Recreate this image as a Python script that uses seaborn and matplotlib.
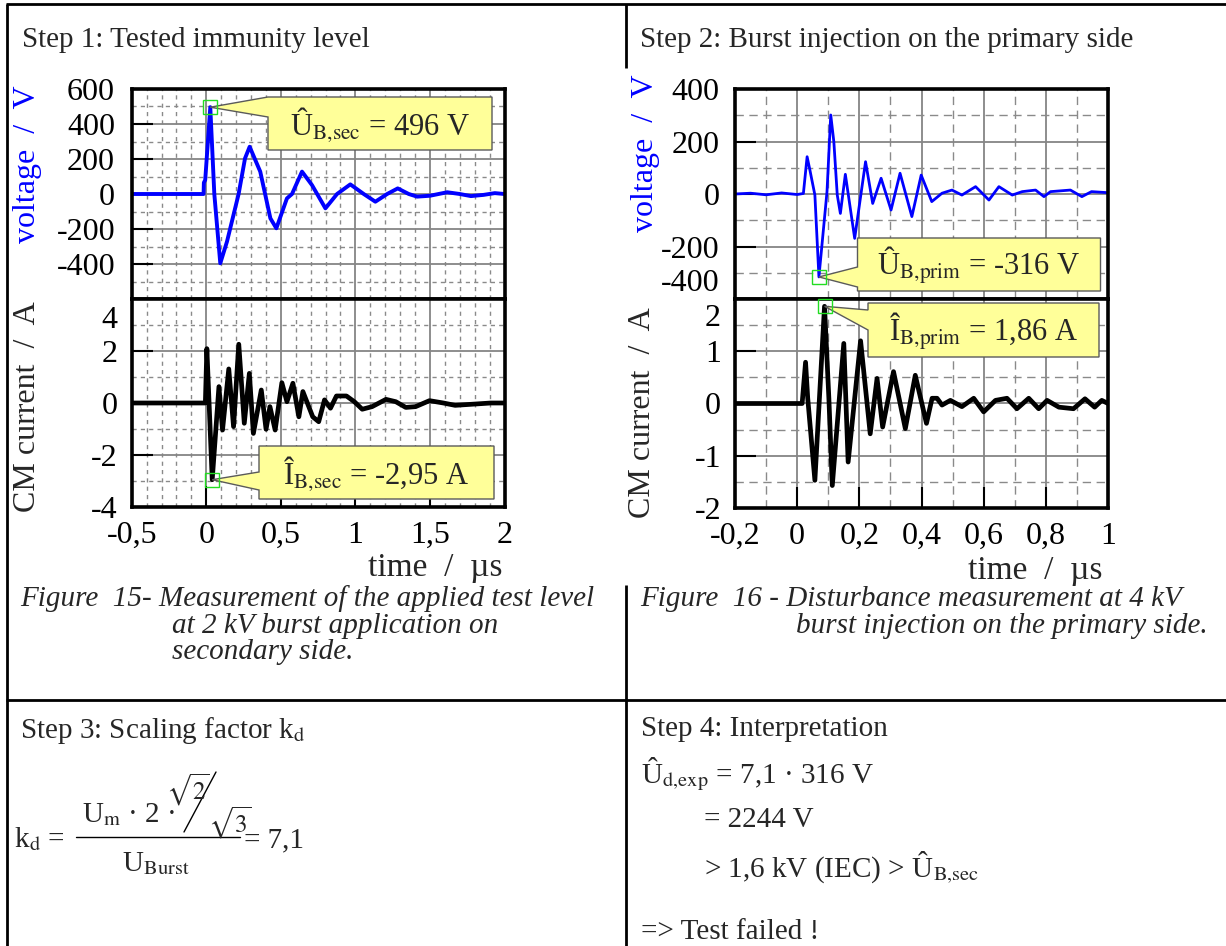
import numpy as np
import matplotlib
matplotlib.use("Agg")
import matplotlib.pyplot as plt
import matplotlib.transforms as mtransforms
import seaborn as sns
from matplotlib.ticker import MultipleLocator
from matplotlib.patches import Polygon, Rectangle

# scope traces, time in µs
# step 1: 2 kV burst on secondary side
sec_v_time = [-0.5, -0.018, -0.016, -0.007, 0.027, 0.054, 0.094, 0.139, 0.217, 0.26, 0.291,
              0.362, 0.43, 0.47, 0.541, 0.575, 0.642, 0.709, 0.799, 0.877, 0.966, 1.056,
              1.134, 1.213, 1.284, 1.358, 1.414, 1.5, 1.616, 1.7, 1.775, 1.86, 1.935, 2.0]
sec_v_volt = [0, 0, 65, 80, 496, 0, -396, -272, 0, 204, 270,
              128, -139, -196, -25, 0, 128, 51, -82, 0, 55, 0,
              -44, 0, 32, 0, -15, -10, 10, 0, -12, -5, 5, 0]

sec_i_time = [-0.5, -0.006, 0.004, 0.04, 0.085, 0.109, 0.151, 0.183, 0.218, 0.255, 0.289,
              0.316, 0.369, 0.401, 0.427, 0.462, 0.507, 0.541, 0.581, 0.621, 0.648, 0.714,
              0.754, 0.793, 0.833, 0.873, 0.94, 0.993, 1.046, 1.112, 1.205, 1.271, 1.338,
              1.404, 1.497, 1.59, 1.669, 1.802, 1.908, 2.0]
sec_i_amp = [0, 0, 2.09, -2.95, 0.63, -1.04, 1.31, -0.91, 2.26, -0.78, 1.14,
             -1.17, 0.5, -1.01, -0.14, -1.04, 0.78, 0.05, 0.76, -0.53, 0.44, -0.53,
             -0.72, 0.12, -0.2, 0.27, 0.27, 0.05, -0.24, -0.14, 0.14, 0.05, -0.17,
             -0.14, 0.09, 0, -0.09, -0.04, 0, 0]

# step 2: 4 kV burst on primary side
prim_v_time = [-0.2, -0.15, -0.1, -0.05, 0.0, 0.02, 0.032, 0.041, 0.057, 0.07, 0.096, 0.108,
               0.118, 0.129, 0.139, 0.155, 0.185, 0.22, 0.243, 0.27, 0.302, 0.331, 0.369,
               0.399, 0.433, 0.466, 0.498, 0.53, 0.574, 0.617, 0.649, 0.692, 0.724, 0.767,
               0.794, 0.815, 0.879, 0.916, 0.947, 1.0]
prim_v_volt = [0, 3, -3, 4, -2, 2, 142, 91, -4, -316, 9, 301,
               199, -4, -74, 75, -169, 123, -36, 60, -61, 79, -86,
               72, -29, 3, 15, -4, 28, -23, 28, -4, 9, 15,
               -10, 9, 15, -10, 9, 5]

prim_i_time = [-0.2, 0.016, 0.027, 0.034, 0.057, 0.088, 0.102, 0.113, 0.15, 0.164, 0.204,
               0.235, 0.257, 0.275, 0.31, 0.348, 0.38, 0.416, 0.434, 0.45, 0.466, 0.493,
               0.53, 0.568, 0.6, 0.638, 0.675, 0.707, 0.745, 0.777, 0.804, 0.842, 0.889,
               0.926, 0.957, 0.98, 1.0]
prim_i_amp = [0, 0, 0.79, 0.1, -1.47, 1.86, 0.1, -1.57, 1.15, -1.12, 1.2,
              -0.58, 0.48, -0.45, 0.61, -0.48, 0.54, -0.38, 0.1, 0.1, -0.03, 0.06,
              -0.06, 0.1, -0.16, 0.06, 0.1, -0.1, 0.1, -0.1, 0.06, -0.07, -0.1,
              0.09, -0.07, 0.06, 0]

sec_xticks = [-0.5, 0, 0.5, 1, 1.5, 2]
sec_xlabels = ["-0,5", "0", "0,5", "1", "1,5", "2"]
prim_xticks = [-0.2, 0, 0.2, 0.4, 0.6, 0.8, 1]
prim_xlabels = ["-0,2", "0", "0,2", "0,4", "0,6", "0,8", "1"]

sns.set_theme(style="white")
plt.rcParams['font.family'] = ['Liberation Serif', 'DejaVu Serif']
plt.rcParams['mathtext.fontset'] = 'stix'

W, H = 1226, 946
fig = plt.figure(figsize=(W / 100, H / 100), dpi=100)
fig.patch.set_facecolor("white")


def px_axes(l, t, r, b):
    return fig.add_axes([l / W, 1 - b / H, (r - l) / W, (b - t) / H])


def style(ax, xlim, xticks, xlabels, xminor, ylim, yticks, yminor, dash, lower, pad):
    ax.set_xlim(xlim)
    ax.set_ylim(ylim)
    ax.set_xticks(xticks, xlabels if lower else [])
    ax.xaxis.set_minor_locator(MultipleLocator(xminor))
    ax.set_yticks(yticks, [f"{v:g}" for v in yticks])
    ax.yaxis.set_minor_locator(MultipleLocator(yminor))
    ax.set_axisbelow(True)
    ax.grid(True, which="major", color="#858585", lw=1.3, ls="-")
    ax.grid(True, which="minor", color="#8a8a8a", lw=1.0, ls=dash)
    for s in ax.spines.values():
        s.set_color("black")
        s.set_linewidth(2.6)
    ax.tick_params(which="major", direction="in", length=15, width=1.5, color="black",
                   labelsize=23, left=True, right=False, top=False, bottom=lower,
                   pad=pad, labelcolor="black")
    ax.tick_params(which="minor", length=0)
    ax.set_xlabel("")
    ax.set_ylabel("")


def shift_label(ax, idx, dy_px):
    lab = ax.get_yticklabels()[idx]
    lab.set_transform(lab.get_transform() +
                      mtransforms.ScaledTranslation(0, -dy_px / 100, fig.dpi_scale_trans))


# panel 1
a1 = px_axes(131.7, 89, 504.5, 299)
b1 = px_axes(131.7, 299, 504.5, 507)
sns.lineplot(x=sec_v_time, y=sec_v_volt, ax=a1, color="#0000ff", lw=2.8, sort=False, estimator=None)
sns.lineplot(x=sec_i_time, y=sec_i_amp, ax=b1, color="black", lw=3.4, sort=False, estimator=None)
style(a1, (-0.5, 2), sec_xticks, sec_xlabels, 0.1, (-600, 600), [-400, -200, 0, 200, 400, 600],
      100, (0, (3, 3)), False, 12)
style(b1, (-0.5, 2), sec_xticks, sec_xlabels, 0.1, (-4, 4), [-4, -2, 0, 2, 4],
      1, (0, (3, 3)), True, 10)
shift_label(b1, 4, 18)

# panel 2
a2 = px_axes(735, 89, 1108, 299)
b2 = px_axes(735, 299, 1108, 508)
sns.lineplot(x=prim_v_time, y=prim_v_volt, ax=a2, color="#0000ff", lw=2.0, sort=False, estimator=None)
sns.lineplot(x=prim_i_time, y=prim_i_amp, ax=b2, color="black", lw=3.4, sort=False, estimator=None)
style(a2, (-0.2, 1), prim_xticks, prim_xlabels, 0.1, (-400, 400), [-400, -200, 0, 200, 400],
      100, (0, (6, 4)), False, 11)
style(b2, (-0.2, 1), prim_xticks, prim_xlabels, 0.1, (-2, 2), [-2, -1, 0, 1, 2],
      0.5, (0, (6, 4)), True, 10)
shift_label(a2, 0, -19)
shift_label(b2, 4, 16)

# overlay in pixel coordinates for the table, texts and callouts
ov = fig.add_axes([0, 0, 1, 1], zorder=10)
ov.set_xlim(0, W)
ov.set_ylim(H, 0)
ov.axis("off")


def to_px(ax, x, y):
    return ov.transData.inverted().transform(ax.transData.transform((x, y)))


def callout(ax, x, y, box, wedge, label):
    tx, ty = to_px(ax, x, y)
    l, t, r, b = box
    w1, w2 = wedge
    ov.add_patch(Polygon([(tx, ty), (l, w1), (l, t), (r, t), (r, b), (l, b), (l, w2)],
                         closed=True, fc="#ffff99", ec="#5a5a5a", lw=1.0))
    ov.add_patch(Rectangle((tx - 7, ty - 7), 14, 14, fill=False, ec="#22dd22", lw=1.0))
    ov.text((l + r) / 2, (t + b) / 2 + 1, label, ha="center", va="center", fontsize=22)


k = int(np.argmax(sec_v_volt))
callout(a1, sec_v_time[k], sec_v_volt[k], (268, 97, 492, 150), (97, 117),
        "Û$_{\\mathrm{B{,}sec}}$ = 496 V")
k = int(np.argmin(sec_i_amp))
callout(b1, sec_i_time[k], sec_i_amp[k], (259, 446, 494, 499), (472, 490),
        "Î$_{\\mathrm{B{,}sec}}$ = -2,95 A")
k = int(np.argmin(prim_v_volt))
callout(a2, prim_v_time[k], prim_v_volt[k], (857.5, 238, 1100.5, 291), (267, 287),
        "Û$_{\\mathrm{B{,}prim}}$ = -316 V")
k = int(np.argmax(prim_i_amp))
callout(b2, prim_i_time[k], prim_i_amp[k], (868, 303, 1099, 357), (310, 330),
        "Î$_{\\mathrm{B{,}prim}}$ = 1,86 A")

# axis titles
ov.text(28, 164, "voltage  /  V", rotation=90, ha="center", va="center", fontsize=23, color="#0000ff")
ov.text(28, 407, "CM current  /  A", rotation=90, ha="center", va="center", fontsize=23)
ov.text(645, 153, "voltage  /  V", rotation=90, ha="center", va="center", fontsize=23, color="#0000ff")
ov.text(643, 413, "CM current  /  A", rotation=90, ha="center", va="center", fontsize=23)
ov.text(502, 576, "time  /  µs", ha="right", va="baseline", fontsize=24)
ov.text(1102, 579, "time  /  µs", ha="right", va="baseline", fontsize=24)

# table borders
lk = dict(color="black", lw=2.0, solid_capstyle="butt")
ov.plot([6, W], [4, 4], **lk)
ov.plot([6.5, 6.5], [4, H], **lk)
ov.plot([626, 626], [4, 68], **lk)
ov.plot([626, 626], [585, H], **lk)
ov.plot([6, W], [700, 700], **lk)

# cell texts
fs = 21
ov.text(22, 47, "Step 1: Tested immunity level", fontsize=fs, va="baseline")
ov.text(640, 47, "Step 2: Burst injection on the primary side", fontsize=fs, va="baseline")
ov.text(20, 606, "Figure  15- Measurement of the applied test level", fontsize=fs, style="italic", va="baseline")
ov.text(172, 633, "at 2 kV burst application on", fontsize=fs, style="italic", va="baseline")
ov.text(172, 659, "secondary side.", fontsize=fs, style="italic", va="baseline")
ov.text(640, 606, "Figure  16 - Disturbance measurement at 4 kV", fontsize=fs, style="italic", va="baseline")
ov.text(796, 633, "burst injection on the primary side.", fontsize=fs, style="italic", va="baseline")

ov.text(20, 738, "Step 3: Scaling factor k$_{\\mathrm{d}}$", fontsize=fs, va="baseline")
ov.text(14, 847, "k$_{\\mathrm{d}}$ =", fontsize=fs, va="baseline")
ov.text(82, 822, "U$_{\\mathrm{m}}$ · 2 ·", fontsize=fs, va="baseline")
ov.text(210, 800, "$\\sqrt{2}$", fontsize=18, va="baseline", ha="right")
ov.plot([216, 184], [772, 832], color="black", lw=1.0)
ov.text(208, 833, "$\\sqrt{3}$", fontsize=18, va="baseline")
ov.plot([76, 240], [837, 837], color="black", lw=1.0)
ov.text(156, 871, "U$_{\\mathrm{Burst}}$", fontsize=fs, va="baseline", ha="center")
ov.text(244, 847, "= 7,1", fontsize=fs, va="baseline")

ov.text(641, 736, "Step 4: Interpretation", fontsize=fs, va="baseline")
ov.text(641, 783, "Û$_{\\mathrm{d{,}exp}}$ = 7,1 · 316 V", fontsize=fs, va="baseline")
ov.text(704.5, 827, "= 2244 V", fontsize=fs, va="baseline")
ov.text(704.5, 877, "> 1,6 kV (IEC) > Û$_{\\mathrm{B{,}sec}}$", fontsize=fs, va="baseline")
ov.text(641, 939, "=> Test failed !", fontsize=fs, va="baseline")

fig.savefig("out.png", dpi=100)
